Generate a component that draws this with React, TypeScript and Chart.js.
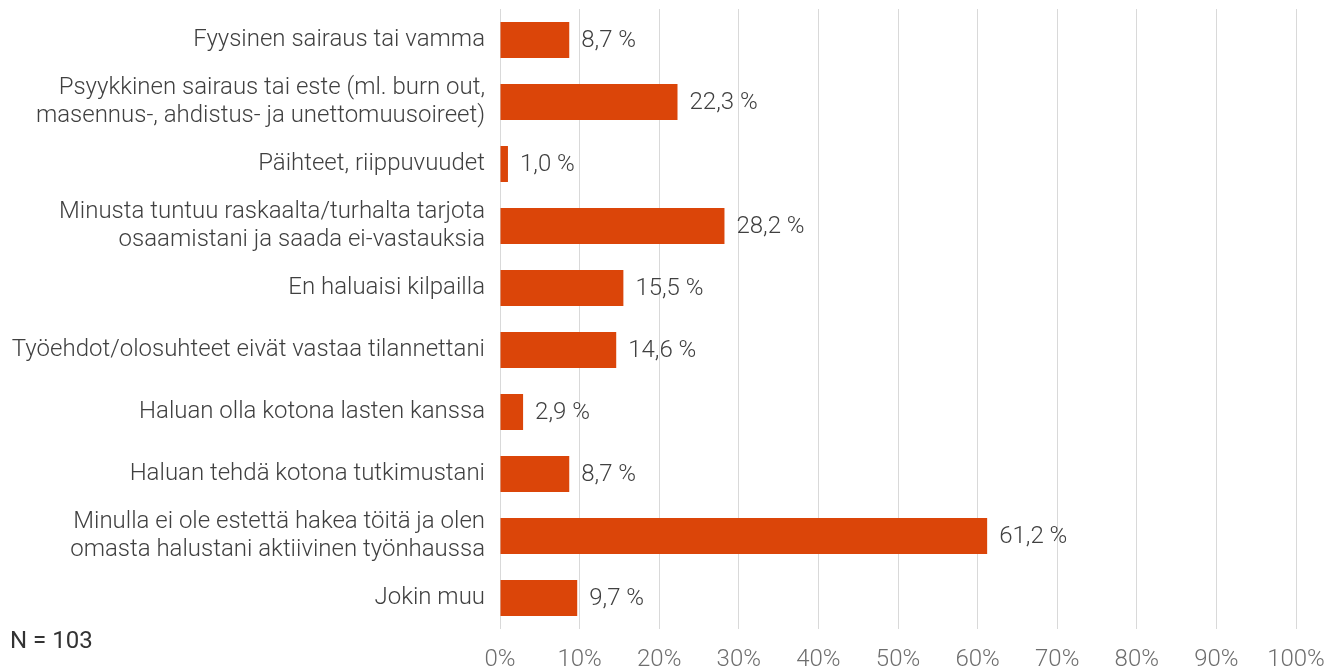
import React, { useEffect, useRef } from "react";
import { Chart, registerables } from "chart.js";

Chart.register(...registerables);

const categories: (string | string[])[] = [
  "Fyysinen sairaus tai vamma",
  ["Psyykkinen sairaus tai este (ml. burn out,", "masennus-, ahdistus- ja unettomuusoireet)"],
  "Päihteet, riippuvuudet",
  ["Minusta tuntuu raskaalta/turhalta tarjota", "osaamistani ja saada ei-vastauksia"],
  "En haluaisi kilpailla",
  "Työehdot/olosuhteet eivät vastaa tilannettani",
  "Haluan olla kotona lasten kanssa",
  "Haluan tehdä kotona tutkimustani",
  ["Minulla ei ole estettä hakea töitä ja olen", "omasta halustani aktiivinen työnhaussa"],
  "Jokin muu",
];

const values: number[] = [8.7, 22.3, 1.0, 28.2, 15.5, 14.6, 2.9, 8.7, 61.2, 9.7];

const tickValues: number[] = [0, 10, 20, 30, 40, 50, 60, 70, 80, 90, 100];

const sampleNote = "N = 103";

const BAR_COLOR = "#DB4509";

const fmt = (v: number) => v.toFixed(1).replace(".", ",") + " %";

const dataLabelPlugin = {
  id: "dataLabels",
  afterDatasetsDraw(chart: any) {
    const ctx = chart.ctx;
    const meta = chart.getDatasetMeta(0);
    ctx.save();
    ctx.font = "300 24px Roboto";
    ctx.fillStyle = "#404040";
    ctx.textAlign = "left";
    ctx.textBaseline = "middle";
    meta.data.forEach((bar: any, i: number) => {
      ctx.fillText(fmt(values[i]), bar.x + 12, bar.y + 1);
    });
    ctx.restore();
  },
};

export default function App() {
  const ref = useRef<HTMLCanvasElement | null>(null);

  useEffect(() => {
    document.body.style.margin = "0";
    document.body.style.overflow = "hidden";
    if (!ref.current) return;
    const chart = new Chart(ref.current, {
      type: "bar",
      data: {
        labels: categories,
        datasets: [
          {
            data: values,
            backgroundColor: BAR_COLOR,
            borderWidth: 0,
            barPercentage: 0.58,
            categoryPercentage: 1,
          },
        ],
      },
      options: {
        indexAxis: "y",
        animation: false,
        responsive: false,
        maintainAspectRatio: false,
        layout: { padding: { left: 8, top: 9, right: 43, bottom: 0 } },
        plugins: {
          legend: { display: false },
          tooltip: { enabled: false },
        },
        scales: {
          x: {
            min: 0,
            max: 100,
            afterBuildTicks(axis: any) {
              axis.ticks = tickValues.map((v) => ({ value: v }));
            },
            afterFit(axis: any) {
              axis.height = 43;
              axis.paddingLeft = 0;
              axis.paddingRight = 0;
            },
            grid: { color: "#d9d9d9", lineWidth: 1, drawTicks: false },
            border: { display: false },
            ticks: {
              padding: 17,
              color: "#6e6e6e",
              font: { family: "Roboto", size: 24, weight: 300 },
              callback: (v: any) => v + "%",
            },
          },
          y: {
            afterFit(axis: any) {
              axis.width = 492;
              axis.paddingTop = 0;
              axis.paddingBottom = 0;
            },
            grid: { display: false, drawTicks: false },
            border: { display: false },
            ticks: {
              padding: 15,
              color: "#404040",
              font: { family: "Roboto", size: 24, weight: 300, lineHeight: 1.15 },
            },
          },
        },
      },
      plugins: [dataLabelPlugin],
    });
    return () => chart.destroy();
  }, []);

  return (
    <div style={{ position: "relative", width: 1339, height: 672 }}>
      <canvas ref={ref} width={1339} height={672} style={{ display: "block" }} />
      <div
        style={{
          position: "absolute",
          left: 10,
          top: 626,
          fontFamily: "Roboto",
          fontWeight: 400,
          fontSize: 24,
          color: "#333",
          lineHeight: "28px",
        }}
      >
        {sampleNote}
      </div>
    </div>
  );
}
